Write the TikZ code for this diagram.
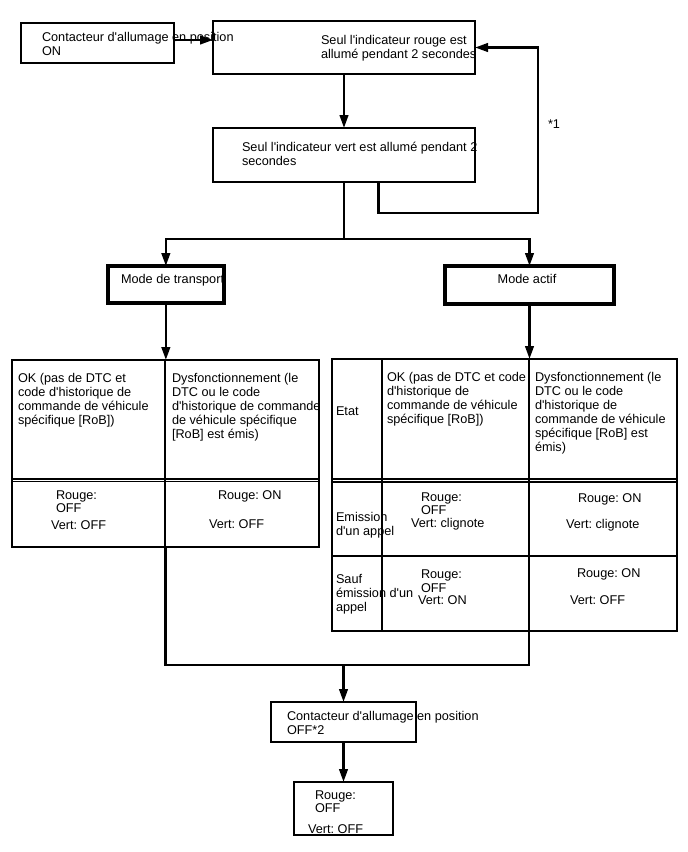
\documentclass[tikz,border=0pt]{standalone}
\usepackage{fontspec}
\setmainfont{Liberation Sans}[Ligatures=TeXOff]
\usetikzlibrary{arrows.meta}
\begin{document}
\frenchspacing
\begin{tikzpicture}[x=1pt,y=-1pt,
  every node/.style={font=\fontsize{12.7}{14}\selectfont\frenchspacing, inner sep=0pt, outer sep=0pt},
  box/.style={draw=black, line width=1.6pt, rectangle, anchor=north west},
  thickbox/.style={draw=black, line width=4pt, rectangle, anchor=north west},
  tbl/.style={draw=black, line width=1.3pt, rectangle, anchor=north west},
  txt/.style={anchor=base west, align=left},
  rule/.style={line width=1.1pt, draw=black},
  conn/.style={line width=2.6pt, draw=black},
  arr/.style={conn, -{Triangle[length=13pt,width=8.5pt]}},
]
\useasboundingbox (0,0) rectangle (688,852);

% texts (anchor = baseline of the last line)
\node[txt] (tA) at (42,55) {Contacteur d'allumage en position\\ON};
\node[txt] (tB) at (321,58) {Seul l'indicateur rouge est\\[-0.5pt]allumé pendant 2 secondes};
\node[txt] (tC) at (242,165.5) {Seul l'indicateur vert est allumé pendant 2\\secondes};
\node[txt] (star1) at (548,128.5) {*1};
\node[txt] (tMT) at (121,283.5) {Mode de transport};
\node[anchor=base] (tMA) at (527,283.5) {Mode actif};

\node[txt] (tL1) at (18,424) {OK (pas de DTC et\\code d'historique de\\commande de véhicule\\spécifique {[RoB]})};
\node[txt] (tL2) at (172,438) {Dysfonctionnement (le\\DTC ou le code\\d'historique de commande\\de véhicule spécifique\\{[RoB]} est émis)};
\node[txt] (tL3) at (56,512) {Rouge:\\[-1.5pt]OFF};
\node[txt] (tL4) at (51,529) {Vert: OFF};
\node[txt] (tL5) at (218,499.5) {Rouge: ON};
\node[txt] (tL6) at (209,528) {Vert: OFF};

\node[txt] (tR0) at (336,415) {Etat};
\node[txt] (tR1) at (387,423) {OK (pas de DTC et code\\d'historique de\\commande de véhicule\\spécifique {[RoB]})};
\node[txt] (tR2) at (535,451) {Dysfonctionnement (le\\DTC ou le code\\d'historique de\\commande de véhicule\\spécifique {[RoB]} est\\émis)};
\node[txt] (tR3) at (336,535) {Emission\\d'un appel};
\node[txt] (tR4) at (421,514.5) {Rouge:\\[-0.5pt]OFF};
\node[txt] (tR5) at (411,527) {Vert: clignote};
\node[txt] (tR6) at (578,502) {Rouge: ON};
\node[txt] (tR7) at (566,528) {Vert: clignote};
\node[txt] (tR8) at (336,611) {Sauf\\émission d'un\\appel};
\node[txt] (tR9) at (421,592) {Rouge:\\OFF};
\node[txt] (tR10) at (418,604.5) {Vert: ON};
\node[txt] (tR11) at (577,577) {Rouge: ON};
\node[txt] (tR12) at (570,604.5) {Vert: OFF};

\node[txt] (tD) at (287,734) {Contacteur d'allumage en position\\[-0.5pt]OFF*2};
\node[txt] (tE1) at (315,812) {Rouge:\\[-1.5pt]OFF};
\node[txt] (tE2) at (308,833.5) {Vert: OFF};

% boxes
\node[box, minimum width=153pt, minimum height=40pt] (A) at (21,23) {};
\node[box, minimum width=262pt, minimum height=53pt] (B) at (213,21) {};
\node[box, minimum width=262pt, minimum height=54pt] (C) at (213,128) {};
\node[thickbox, minimum width=115.7pt, minimum height=37pt] (MT) at (108,266) {};
\node[thickbox, minimum width=168.4pt, minimum height=38pt] (MA) at (445.3,266) {};
\node[tbl, minimum width=307pt, minimum height=187pt] (LT) at (12,360) {};
\node[tbl, minimum width=345pt, minimum height=272pt] (RT) at (332,359) {};
\node[box, minimum width=145pt, minimum height=40pt] (D) at (271,702) {};
\node[box, minimum width=99pt, minimum height=53pt] (E) at (294,782) {};

% table rules
\draw[rule] (165,360) -- (165,547);
\draw[rule] (12,479) -- (319,479);
\draw[rule] (12,481.5) -- (319,481.5);
\draw[rule] (382,359) -- (382,631);
\draw[rule] (529,359) -- (529,631);
\draw[rule] (332,479) -- (677,479);
\draw[rule] (332,482) -- (677,482);
\draw[rule] (332,556) -- (677,556);

% connectors
\coordinate (fbR) at (538,213);
\coordinate (sp) at (344,239);
\coordinate (jn) at (343.5,665);
\coordinate (rtc) at (529,631);
\draw[arr] ([yshift=3pt]A.east) -- ([yshift=3pt]A.east -| B.west);
\draw[arr] (B.south) -- (C.north);
\draw[arr] ([xshift=34.5pt]C.south) |- (fbR) |- (B.east);
\draw[conn] (C.south) -- (sp);
\draw[arr] (sp) -| (MT.north);
\draw[arr] (sp) -| (MA.north);
\draw[arr] (MT.south) -- (MT.south |- LT.north);
\draw[arr] (MA.south) -- (MA.south |- RT.north);
\draw[conn] (LT.south) |- (jn) -| (rtc);
\draw[arr] (jn) -- (D.north);
\draw[arr] (D.south) -- (E.north);
\end{tikzpicture}
\end{document}
